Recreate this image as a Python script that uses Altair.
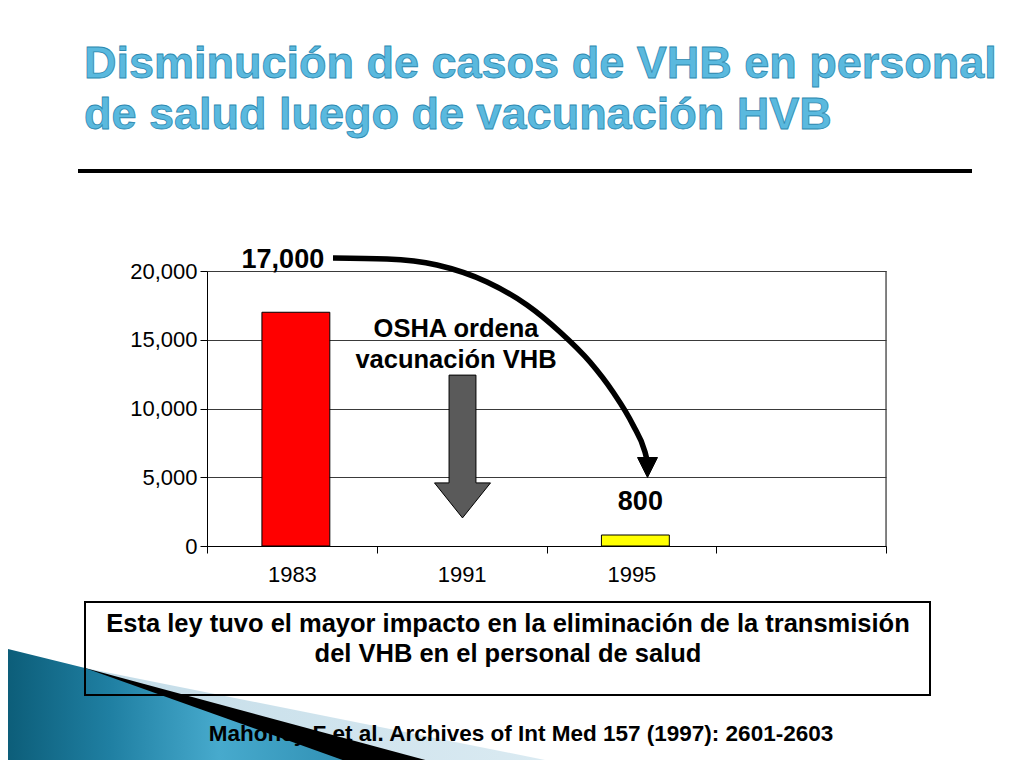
import altair as alt
import pandas as pd

# ---------------- data ----------------
years = ["1983", "1991", "1995"]
cases = [17000, 0, 800]
value_labels = ["17,000", "", "800"]
bar_colors = ["#FF0000", "#7F7F7F", "#FFFF00"]
x_domain = years + [""]          # fourth, empty category slot
y_ticks = [0, 5000, 10000, 15000, 20000]

title_lines = ["Disminución de casos de VHB en personal",
               "de salud luego de vacunación HVB"]
osha_lines = ["OSHA ordena", "vacunación VHB"]
box_lines = ["Esta ley tuvo el mayor impacto en la eliminación de la transmisión",
             "del VHB en el personal de salud"]
citation = "Mahoney F et al.  Archives of Int Med 157 (1997): 2601-2603"

# ---------------- layout (page pixels) ----------------
OX, OY = 207, 271          # plot-area origin on the page
PW, PH = 679, 275          # plot-area size
FONT = "Liberation Sans"


def px(v):
    return v - OX


def py(v):
    return v - OY


# curved arrow path (page pixels)
curve_x = [333, 387, 437, 487, 527, 560, 590, 613, 633, 645, 647]
curve_y = [258, 259, 265, 282, 305, 332, 362, 392, 425, 452, 460]

# decorative slide ornament (page pixels)
pale_x, pale_top = [85, 600], [668, 771]
black_x, black_top = [85, 455], [668, 768]
teal_x, teal_top = [0, 85, 365], [647, 668, 768]
BOTTOM = 768

one = pd.DataFrame({"k": [0]})
df = pd.DataFrame({"year": years, "cases": cases, "label": value_labels})

x_scale = alt.Scale(domain=x_domain, paddingInner=0, paddingOuter=0)
y_scale = alt.Scale(domain=[0, 20000], nice=False)

x_axis = alt.Axis(title=None, labelAngle=0, tickBand="extent",
                  tickSize=7, tickColor="black", domainColor="black",
                  labelFontSize=22, labelColor="black", labelFont=FONT,
                  labelPadding=11, grid=False)
y_axis = alt.Axis(title=None, values=y_ticks,
                  labelExpr="format(datum.value, ',')",
                  tickSize=7, tickColor="black", domainColor="black",
                  labelFontSize=22, labelColor="black", labelFont=FONT,
                  labelPadding=3, grid=True, gridColor="#3a3a3a", gridWidth=1)

base = alt.Chart(df)

bars = base.transform_filter("datum.cases > 0").mark_bar(
    stroke="black", strokeWidth=1, width=alt.RelativeBandSize(0.4), xOffset=4
).encode(
    x=alt.X("year:N", scale=x_scale, sort=x_domain, axis=x_axis),
    y=alt.Y("cases:Q", scale=y_scale, axis=y_axis),
    color=alt.Color("year:N", scale=alt.Scale(domain=years, range=bar_colors),
                    legend=None),
)

lab17 = base.transform_filter("datum.year == '1983'").mark_text(
    font=FONT, fontSize=27, fontWeight="bold", color="black", dx=-9, dy=-52
).encode(x=alt.X("year:N", scale=x_scale, sort=x_domain, axis=x_axis),
         y=alt.Y("cases:Q", scale=y_scale, axis=y_axis),
         text="label:N")

lab800 = base.transform_filter("datum.year == '1995'").mark_text(
    font=FONT, fontSize=27, fontWeight="bold", color="black", dx=9, dy=-33
).encode(x=alt.X("year:N", scale=x_scale, sort=x_domain, axis=x_axis),
         y=alt.Y("cases:Q", scale=y_scale, axis=y_axis),
         text="label:N")

right_frame = alt.Chart(one).mark_rule(color="#3a3a3a", strokeWidth=1.2).encode(
    x=alt.value(PW), y=alt.value(0), y2=alt.value(PH))


def text_at(txt, x, y, size, align="center", weight="bold", color="black", **kw):
    return alt.Chart(one).mark_text(
        text=txt, font=FONT, fontSize=size, fontWeight=weight, color=color,
        align=align, baseline="alphabetic", **kw
    ).encode(x=alt.value(px(x)), y=alt.value(py(y)))


# title
title1 = text_at(title_lines[0], 84, 78, 45, align="left", color="#5AB9DE",
                 stroke="#2C88B0", strokeWidth=0.8)
title2 = text_at(title_lines[1], 84, 129, 45, align="left", color="#5AB9DE",
                 stroke="#2C88B0", strokeWidth=0.8)
underline = alt.Chart(one).mark_rule(color="black", strokeWidth=4).encode(
    x=alt.value(px(78)), x2=alt.value(px(972)), y=alt.value(py(171)))

# OSHA annotation
osha1 = text_at(osha_lines[0], 456, 337, 25.5)
osha2 = text_at(osha_lines[1], 456, 368, 25.5)

gray_arrow = alt.Chart(one).mark_point(
    shape="M-0.48,-2.55 L0.48,-2.55 L0.48,1.3 L1,1.3 L0,2.55 L-1,1.3 L-0.48,1.3 Z",
    size=56 * 56, filled=True, fill="#5A5A5A", stroke="black", strokeWidth=1,
    opacity=1,
).encode(x=alt.value(px(462.5)), y=alt.value(py(446.5)))

# curved arrow
curve_df = pd.DataFrame({"cx": [px(v) for v in curve_x],
                         "cy": [py(v) for v in curve_y],
                         "o": list(range(len(curve_x)))})
curve = alt.Chart(curve_df).mark_line(
    color="black", strokeWidth=5.5, interpolate="monotone", strokeCap="butt"
).encode(x=alt.X("cx:Q", scale=None),
         y=alt.Y("cy:Q", scale=None), order="o:Q")
curve_head = alt.Chart(one).mark_point(
    shape="M-1,-1 L1,-1 L0,1 Z", size=20 * 20, filled=True, fill="black",
    stroke="black", strokeWidth=1, opacity=1,
).encode(x=alt.value(px(647.5)), y=alt.value(py(467.5)))


# slide ornament
def area(xs, tops, color):
    d = pd.DataFrame({"ax": [px(v) for v in xs], "ay": [py(v) for v in tops],
                      "ay2": [py(BOTTOM)] * len(xs)})
    return alt.Chart(d).mark_area(color=color, opacity=1).encode(
        x=alt.X("ax:Q", scale=None),
        y=alt.Y("ay:Q", scale=None),
        y2="ay2:Q")


pale = area(pale_x, pale_top, alt.Gradient(
    gradient="linear", x1=0, x2=1, y1=0, y2=0,
    stops=[alt.GradientStop(color="#C3DCE8", offset=0),
           alt.GradientStop(color="#DDECF3", offset=1)]))
black_band = area(black_x, black_top, "black")
teal = area(teal_x, teal_top, alt.Gradient(
    gradient="linear", x1=0, x2=1, y1=0, y2=0,
    stops=[alt.GradientStop(color="#0B5B76", offset=0),
           alt.GradientStop(color="#1F7FA2", offset=0.3),
           alt.GradientStop(color="#47AACD", offset=0.6),
           alt.GradientStop(color="#2E8DB1", offset=1)]))

# text box
box = alt.Chart(one).mark_rect(filled=False, stroke="black", strokeWidth=2).encode(
    x=alt.value(px(85)), x2=alt.value(px(930)),
    y=alt.value(py(602)), y2=alt.value(py(695)))
box1 = text_at(box_lines[0], 508, 632, 25.5)
box2 = text_at(box_lines[1], 508, 662, 25.5)
cite = text_at(citation, 521, 741, 22.5)

chart = alt.layer(
    pale, black_band, teal, box, box1, box2, cite,
    bars, lab17, lab800, right_frame, gray_arrow, osha1, osha2, curve,
    curve_head, title1, title2, underline,
).properties(
    width=PW, height=PH,
    autosize=alt.AutoSizeParams(type="none"),
    padding={"left": OX - 8, "top": OY - 8,
             "right": 1008 - (OX - 8) - PW, "bottom": 752 - (OY - 8) - PH},
    background="white",
).configure_view(stroke="#3a3a3a", strokeWidth=1).configure(font=FONT)

chart.save("out.html", embed_options={"renderer": "svg", "actions": False})
